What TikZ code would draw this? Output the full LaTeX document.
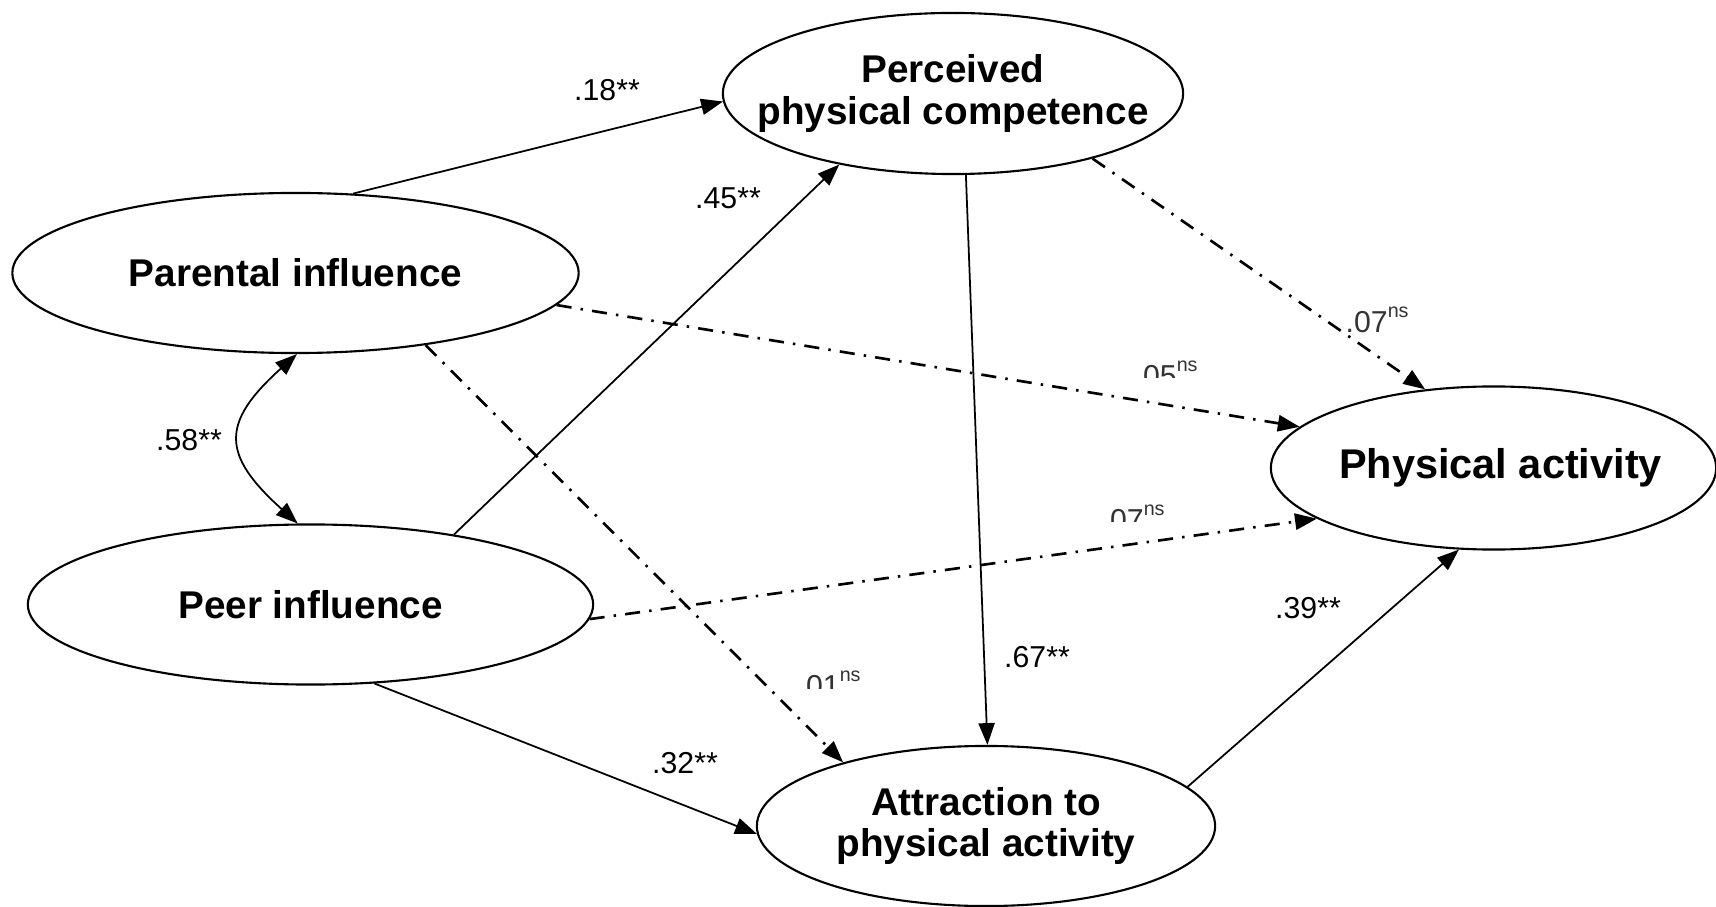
\documentclass[tikz,border=0pt]{standalone}
\usepackage{fontspec}
\setmainfont{Liberation Sans}
\usetikzlibrary{shapes.geometric,arrows.meta}
% superscript "ns" marking a non-significant path coefficient
\newcommand\nsmark{\raisebox{4.4pt}{\fontsize{5.6}{6}\selectfont ns}}
\begin{document}
\begin{tikzpicture}[x=0.01cm,y=-0.01cm,
  latent/.style={draw, ellipse, line width=0.6pt, inner sep=0pt},
  vname/.style={font=\fontsize{11}{11.7}\selectfont\bfseries, align=center, inner sep=0pt},
  coef/.style={font=\fontsize{8.6}{10}\selectfont, inner sep=0pt},
  nscoef/.style={font=\fontsize{8.6}{10}\selectfont, inner sep=0pt, anchor=base west, text=black!80},
  tip/.style={-{Triangle[length=6.2pt,width=4.6pt]}},
  sigpath/.style={line width=0.5pt, tip},
  nspath/.style={line width=0.75pt, dash pattern=on 4.3pt off 2.6pt on 0.7pt off 2.6pt, tip},
  corr/.style={line width=0.5pt, {Triangle[length=6.2pt,width=4.6pt]}-{Triangle[length=6.2pt,width=4.6pt]}}]

\useasboundingbox[fill=white] (0,0) rectangle (1716,907);

% latent variables
\node[latent, minimum width=5.66cm, minimum height=1.60cm] (par)   at (295.5,273) {};
\node[latent, minimum width=5.65cm, minimum height=1.60cm] (peer)  at (310.5,604.5) {};
\node[latent, minimum width=4.60cm, minimum height=1.61cm] (pcomp) at (953,93.5) {};
\node[latent, minimum width=4.58cm, minimum height=1.60cm] (attr)  at (986,826) {};
\node[latent, minimum width=4.45cm, minimum height=1.63cm] (pa)    at (1493.5,468) {};

\node[vname] (tpar)   at (par)   {Parental influence};
\node[vname] (tpeer)  at (peer)  {Peer influence};
\node[vname] (tpcomp) at (pcomp) {Perceived\\physical competence};
\node[vname] (tattr)  at (attr)  {Attraction to\\physical activity};
\node[vname, font=\fontsize{11.8}{12}\selectfont\bfseries] (tpa) at ([xshift=0.07cm]pa.center) {Physical activity};

% significant paths
\draw[sigpath] (par.54.4)   -- (pcomp.182);
\draw[sigpath] (peer.26.5)  -- (pcomp.212.7);
\draw[sigpath] (pcomp.279.7) -- (attr.89.5);
\draw[sigpath] (peer.309.4) -- (attr.182.8);
\draw[sigpath] (attr.11.8)  -- (pa.247.5);

% non-significant paths
\draw[nspath] (par.353.4)   -- (pa.168.6);
\draw[nspath] (pcomp.335.9) -- (pa.131);
\draw[nspath] (peer.357.9)  -- (pa.196);
\draw[nspath] (par.331)     -- (attr.156);

% correlation between parental and peer influence
\draw[corr] (par.271) to[out=222,in=138,looseness=1.55] (peer.99.6);

% coefficients
\node[coef] (c18) at (607,90)   {.18**};
\node[coef] (c45) at (728,198)  {.45**};
\node[coef] (c58) at (189,440)  {.58**};
\node[coef] (c67) at (1037,657) {.67**};
\node[coef] (c32) at (685,763)  {.32**};
\node[coef] (c39) at (1308,608) {.39**};

\node[nscoef] (c07a) at (1345,333) {.07\nsmark};
\begin{scope}
  \clip (1100,340) rectangle (1220,378);
  \node[nscoef] (c05) at (1134,386.5) {.05\nsmark};
\end{scope}
\begin{scope}
  \clip (1080,480) rectangle (1200,522);
  \node[nscoef] (c07b) at (1101,530.5) {.07\nsmark};
\end{scope}
\begin{scope}
  \clip (780,650) rectangle (880,688);
  \node[nscoef] (c01) at (797,696.5) {.01\nsmark};
\end{scope}
\end{tikzpicture}
\end{document}
